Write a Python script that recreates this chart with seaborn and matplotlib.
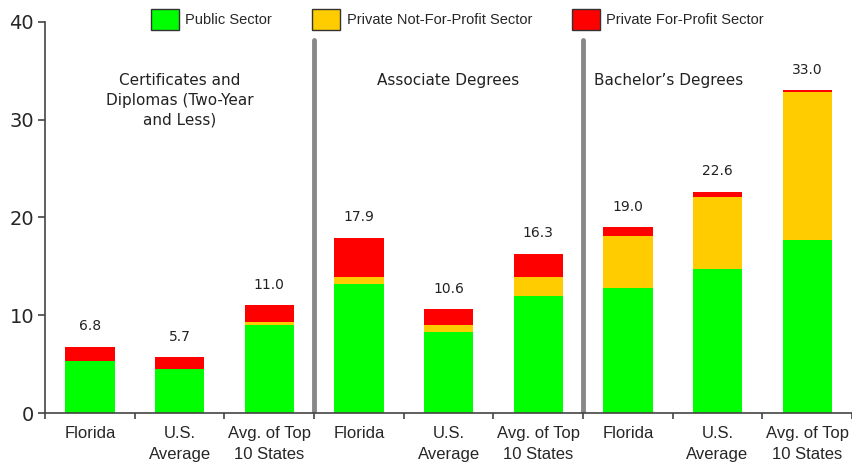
# degrees awarded per 1,000 ... stacked by sector, three award groups
import matplotlib
matplotlib.use("Agg")
import matplotlib.pyplot as plt
import numpy as np
import pandas as pd
import seaborn as sns
from matplotlib.patches import Patch

sns.set_style("white")
plt.rcParams["font.family"] = ["DejaVu Sans"]

BAR_KEYS = ["c_fl", "c_us", "c_top", "a_fl", "a_us", "a_top", "b_fl", "b_us", "b_top"]
TICK_LABELS = ["Florida", "U.S.\nAverage", "Avg. of Top\n10 States"] * 3
PUBLIC = [5.3, 4.5, 9.0, 13.2, 8.3, 12.0, 12.8, 14.7, 17.7]
NONPROFIT = [0.0, 0.0, 0.3, 0.7, 0.7, 1.9, 5.3, 7.4, 15.1]
FORPROFIT = [1.5, 1.2, 1.7, 4.0, 1.6, 2.4, 0.9, 0.5, 0.2]
TOTALS = [6.8, 5.7, 11.0, 17.9, 10.6, 16.3, 19.0, 22.6, 33.0]
GROUPS = ["Certificates and\nDiplomas (Two-Year\nand Less)", "Associate Degrees", "Bachelor\u2019s Degrees"]
SECTORS = ["Public Sector", "Private Not-For-Profit Sector", "Private For-Profit Sector"]
COLORS = ["#00ff00", "#ffcc00", "#ff0000"]

df = pd.DataFrame({
    "key": BAR_KEYS,
    "public": PUBLIC,
    "nonprofit": NONPROFIT,
    "forprofit": FORPROFIT,
})
df["lvl2"] = df["public"] + df["nonprofit"]
df["lvl3"] = df["lvl2"] + df["forprofit"]

fig = plt.figure(figsize=(8.52, 4.67), dpi=100)
ax = fig.add_axes([0.053, 0.1156, 0.947, 0.8374])

# layered barplots = stacked bars
for col, color in zip(["lvl3", "lvl2", "public"], COLORS[::-1]):
    sns.barplot(data=df, x="key", y=col, color=color, width=0.55,
                saturation=1, ax=ax, linewidth=0, order=BAR_KEYS)

for i, tot in enumerate(TOTALS):
    ax.text(i, df["lvl3"][i] + 1.4, f"{tot:.1f}", ha="center", va="bottom",
            fontsize=10, color="#222222")

ax.axvline(2.5, ymax=0.955, color="#888888", lw=3.5)
ax.axvline(5.5, ymax=0.955, color="#888888", lw=3.5)

ax.text(1.0, 34.8, GROUPS[0], ha="center", va="top", fontsize=11, color="#222222",
        linespacing=1.4)
ax.text(4.0, 34.8, GROUPS[1], ha="center", va="top", fontsize=11, color="#222222")
ax.text(6.45, 34.8, GROUPS[2], ha="center", va="top", fontsize=11, color="#222222")

ax.set_xlim(-0.5, 8.47)
ax.set_ylim(0, 40)
ax.set_yticks([0, 10, 20, 30, 40])
ax.tick_params(axis="y", labelsize=14, length=5, width=1.2, direction="out",
               color="#444444", left=True, pad=3)
ax.set_xticks(range(9))
ax.set_xticklabels(TICK_LABELS, fontsize=12, family=["Liberation Sans", "DejaVu Sans"],
                   linespacing=1.55)
ax.set_xticks(np.arange(-0.5, 9, 1), minor=True)
ax.tick_params(axis="x", which="major", length=0, pad=9)
ax.tick_params(axis="x", which="minor", length=4, width=1.2, color="#444444", bottom=True)
ax.set_xlabel("")
ax.set_ylabel("")

for side in ["top", "right"]:
    ax.spines[side].set_visible(False)
for side in ["left", "bottom"]:
    ax.spines[side].set_color("#444444")
    ax.spines[side].set_linewidth(1.2)

handles = [Patch(facecolor=c, edgecolor="#333333", label=s) for s, c in zip(SECTORS, COLORS)]
fig.legend(handles=handles, loc="center", bbox_to_anchor=(0.537, 0.958), ncol=3,
           frameon=False, handlelength=1.9, handleheight=1.9,
           columnspacing=2.75, handletextpad=0.45,
           prop={"family": ["Liberation Sans", "DejaVu Sans"], "size": 10.5})

fig.savefig("out.png", dpi=100)
